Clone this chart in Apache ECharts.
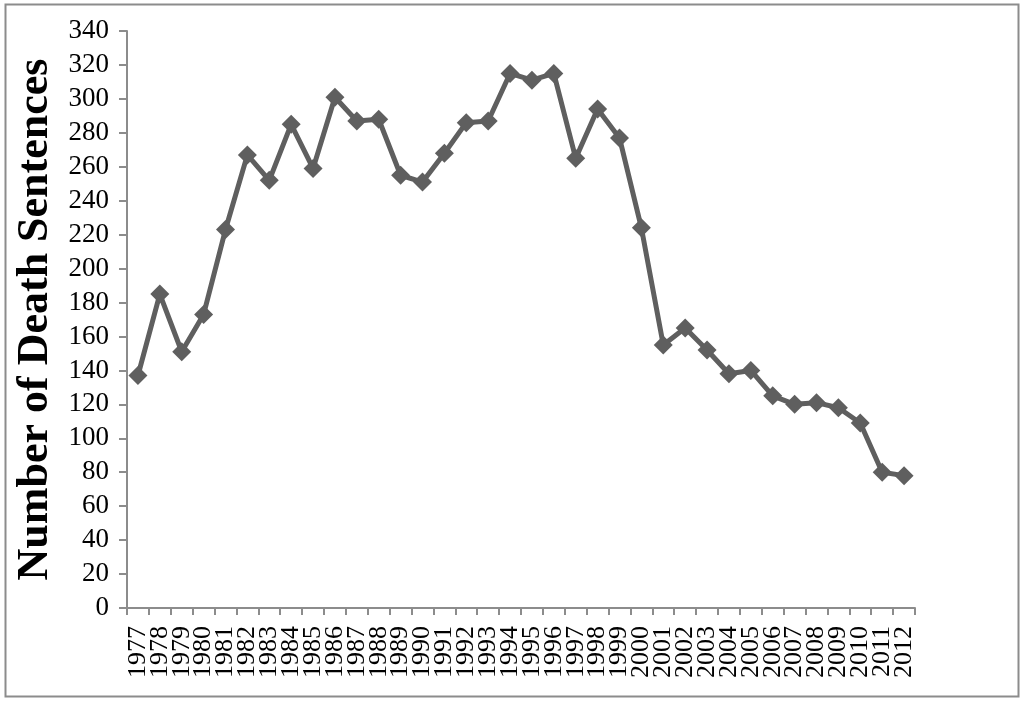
<!DOCTYPE html>
<html>
<head>
<meta charset="utf-8">
<script src="https://cdn.jsdelivr.net/npm/echarts@6/dist/echarts.min.js"></script>
<style>
html,body{margin:0;padding:0;background:#fff;}
#chart{width:1024px;height:701px;}
</style>
</head>
<body>
<div id="chart"></div>
<script>
const years = ['1977','1978','1979','1980','1981','1982','1983','1984','1985','1986','1987','1988','1989','1990','1991','1992','1993','1994','1995','1996','1997','1998','1999','2000','2001','2002','2003','2004','2005','2006','2007','2008','2009','2010','2011','2012'];
const deathSentences = [137,185,151,173,223,267,252,285,259,301,287,288,255,251,268,286,287,315,311,315,265,294,277,224,155,165,152,138,140,125,120,121,118,109,80,78];
const yTicks = {min:0, max:340, interval:20};
const yTitle = 'Number of Death Sentences';

const chart = echarts.init(document.getElementById('chart'));
chart.setOption({
  animation:false,
  backgroundColor:'#fff',
  graphic:[{type:'rect',shape:{x:5.5,y:4.5,width:1013,height:692},style:{fill:'none',stroke:'#8c8c8c',lineWidth:2},silent:true}],
  grid:{left:127,top:31,right:109,bottom:93,containLabel:false},
  xAxis:{
    type:'category',data:years,boundaryGap:true,
    axisLine:{lineStyle:{color:'#8c8c8c',width:2}},
    axisTick:{show:true,length:7,alignWithLabel:false,lineStyle:{color:'#8c8c8c',width:2}},
    axisLabel:{rotate:90,interval:0,margin:18,fontFamily:'Liberation Serif',fontSize:26,color:'#000'},
    splitLine:{show:false}
  },
  yAxis:{
    type:'value',min:yTicks.min,max:yTicks.max,interval:yTicks.interval,
    name:yTitle,nameLocation:'middle',nameGap:66,
    nameTextStyle:{fontFamily:'Liberation Serif',fontWeight:'bold',fontSize:44,color:'#000'},
    axisLine:{show:true,lineStyle:{color:'#8c8c8c',width:2}},
    axisTick:{show:true,length:8,lineStyle:{color:'#8c8c8c',width:2}},
    axisLabel:{margin:18,fontFamily:'Liberation Serif',fontSize:27,color:'#000'},
    splitLine:{show:false}
  },
  series:[{
    type:'line',data:deathSentences,
    symbol:'diamond',symbolSize:19,
    lineStyle:{color:'#5f5f5f',width:5},
    itemStyle:{color:'#5f5f5f'}
  }]
});
</script>
</body>
</html>
